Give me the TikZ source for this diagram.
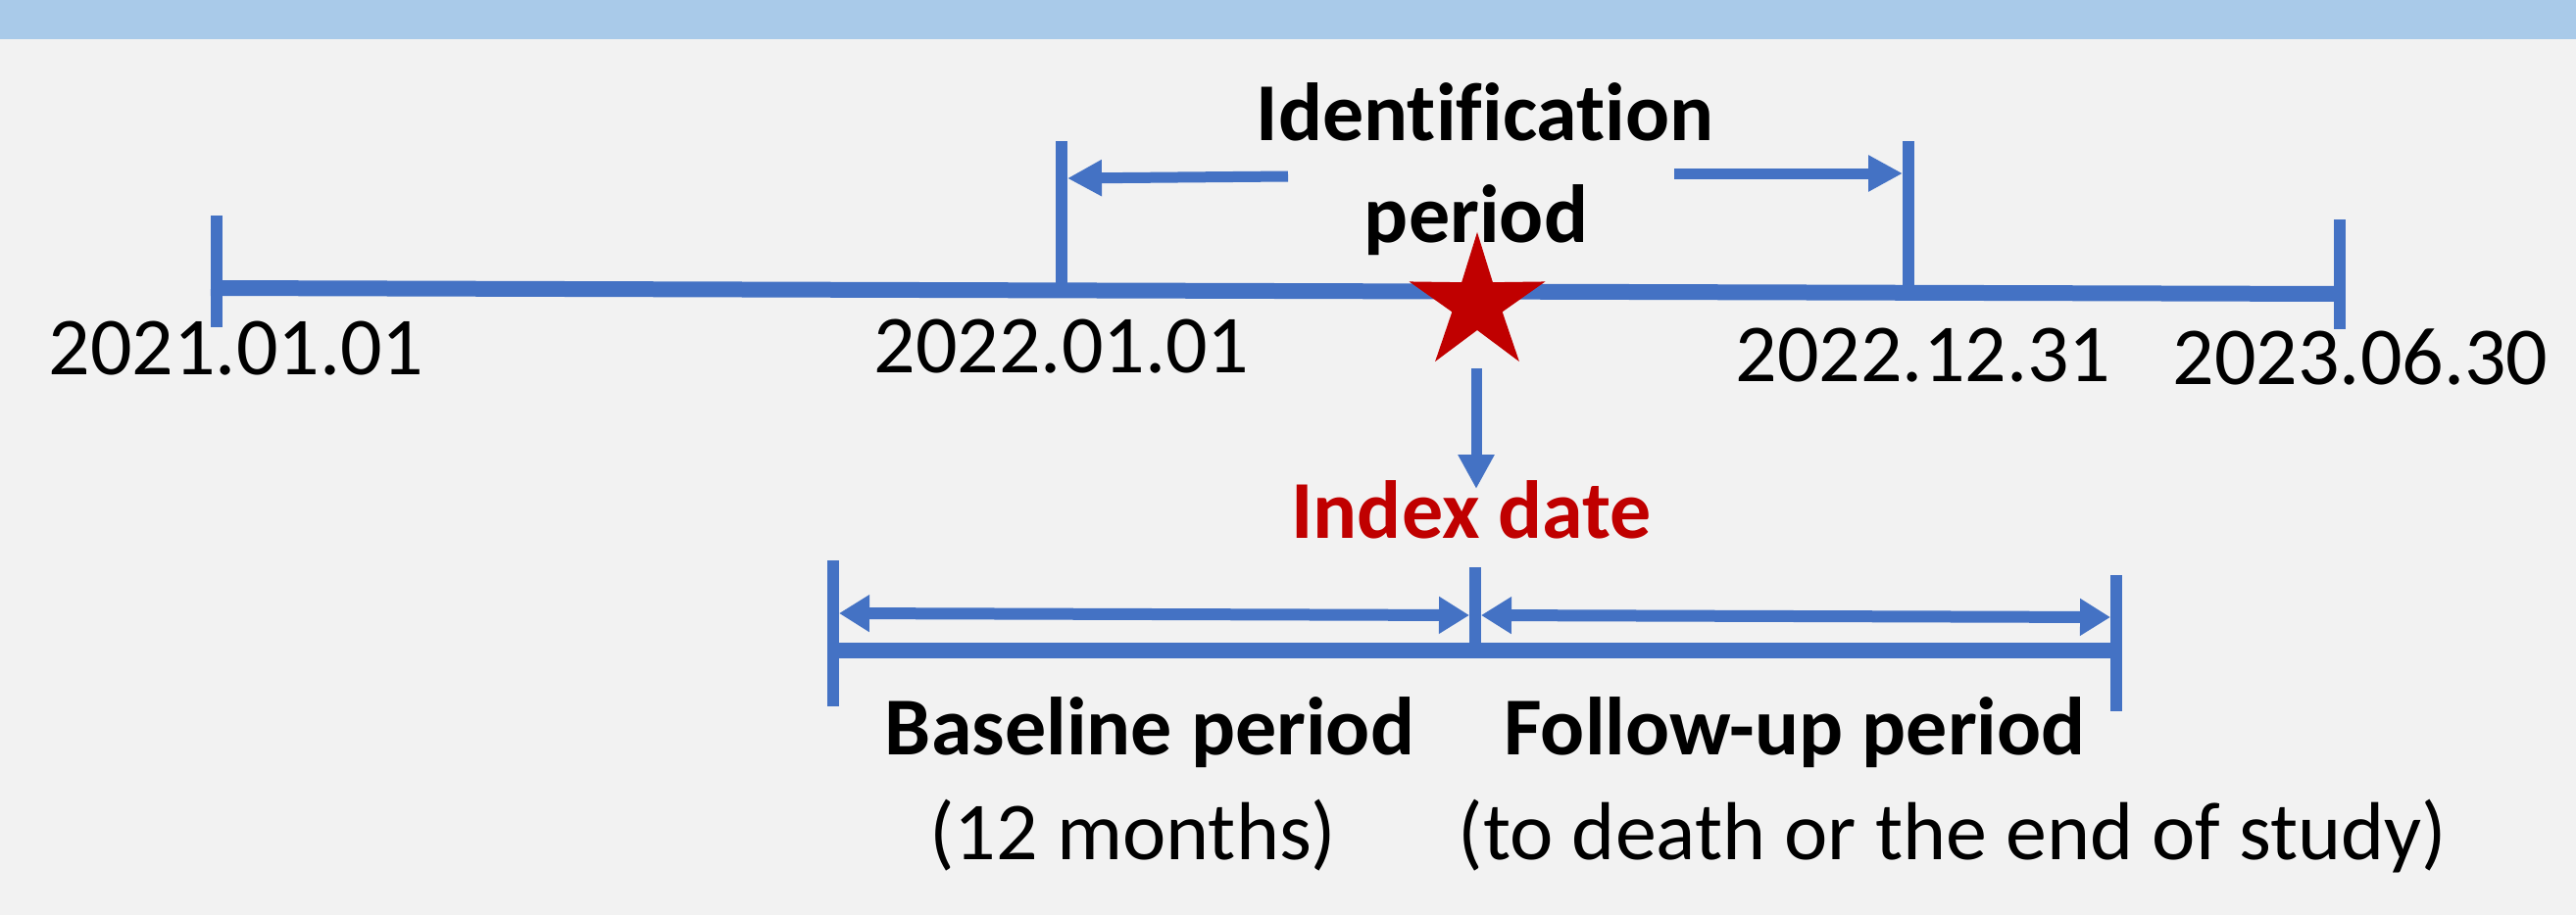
\documentclass[tikz,border=0pt]{standalone}
\usepackage{fontspec}
\setmainfont[Ligatures={NoCommon}]{Carlito}
\usetikzlibrary{arrows.meta}
\definecolor{bgc}{HTML}{F2F2F2}
\definecolor{bandc}{HTML}{A9CAE9}
\definecolor{lineblue}{HTML}{4472C4}
\definecolor{idxred}{HTML}{C00000}
\tikzset{
  tl/.style={draw=lineblue, line width=16pt, line cap=butt},
  tick/.style={draw=lineblue, line width=12pt, line cap=butt},
  arr/.style={draw=lineblue, line width=11pt, -{Triangle[length=35pt,width=35pt]}},
  darr/.style={draw=lineblue, line width=12pt, {Triangle[length=31pt,width=36pt]}-{Triangle[length=31pt,width=36pt]}},
  datelbl/.style={anchor=base, inner sep=0pt, font=\fontsize{84}{100}\selectfont},
  boldlbl/.style={anchor=base, inner sep=0pt, font=\fontsize{84}{100}\selectfont\bfseries},
}
\begin{document}
\begin{tikzpicture}[x=1pt,y=-1pt]
\useasboundingbox (0,0) rectangle (2628,934);
\fill[bgc] (0,0) rectangle (2628,934);
\fill[bandc] (0,0) rectangle (2628,40);

% main timeline coordinates
\coordinate (t1a) at (221,220); \coordinate (t1b) at (221,334);
\coordinate (t2a) at (1083,144); \coordinate (t2b) at (1083,292);
\coordinate (t3a) at (1947,144); \coordinate (t3b) at (1947,298);
\coordinate (t4a) at (2387,224); \coordinate (t4b) at (2387,336);
\coordinate (ml) at (215,294); \coordinate (mr) at (2387,300);

\draw[tl] (ml) -- (mr);
\draw[tick] (t1a) -- (t1b);
\draw[tick] (t2a) -- (t2b);
\draw[tick] (t3a) -- (t3b);
\draw[tick] (t4a) -- (t4b);

% identification period arrows
\coordinate (ila) at (1314,180); \coordinate (ilb) at (1089,182);
\coordinate (ira) at (1708,177); \coordinate (irb) at (1941,177);
\draw[arr] (ila) -- (ilb);
\draw[arr] (ira) -- (irb);

% labels
\node[datelbl] (d1) at (241,382) {2021.01.01};
\node[datelbl] (d2) at (1083,380) {2022.01.01};
\node[datelbl] (d3) at (1962,389) {2022.12.31};
\node[datelbl] (d4) at (2408,392) {2023.06.30};
\node[boldlbl] (idp1) at (1515,143) {Identification};
\node[boldlbl] (idp2) at (1506,247) {period};

% star
\fill[idxred] plot[samples at={0,1,...,9}, variable=\k]
  ({1507+ifthenelse(mod(\k,2)==0,73,27)*cos(-90+36*\k)},
   {310+ifthenelse(mod(\k,2)==0,73,27)*sin(-90+36*\k)}) -- cycle;

% index date arrow
\coordinate (da) at (1506,376);
\node[boldlbl, text=idxred] (idx) at (1501,549) {Index date};
\coordinate (db) at (1506,499);
\draw[arr] (da) -- (db);

% lower timeline
\coordinate (b1a) at (850,572); \coordinate (b1b) at (850,721);
\coordinate (b2a) at (1505,579); \coordinate (b2b) at (1505,664);
\coordinate (b3a) at (2159,587); \coordinate (b3b) at (2159,726);
\coordinate (bl) at (844,664); \coordinate (br) at (2159,664);
\draw[tl] (bl) -- (br);
\draw[tick] (b1a) -- (b1b);
\draw[tick] (b2a) -- (b2b);
\draw[tick] (b3a) -- (b3b);

\coordinate (p1a) at (856,626); \coordinate (p1b) at (1499,628);
\coordinate (p2a) at (1511,628); \coordinate (p2b) at (2153,630);
\draw[darr] (p1a) -- (p1b);
\draw[darr] (p2a) -- (p2b);

\node[boldlbl] (bp) at (1173,770) {Baseline period};
\node[boldlbl] (fp) at (1831,770) {Follow-up period};
\node[datelbl] (bpm) at (1156,877) {(12 months)};
\node[datelbl] (fpm) at (1992,877) {(to death or the end of study)};
\end{tikzpicture}
\end{document}
